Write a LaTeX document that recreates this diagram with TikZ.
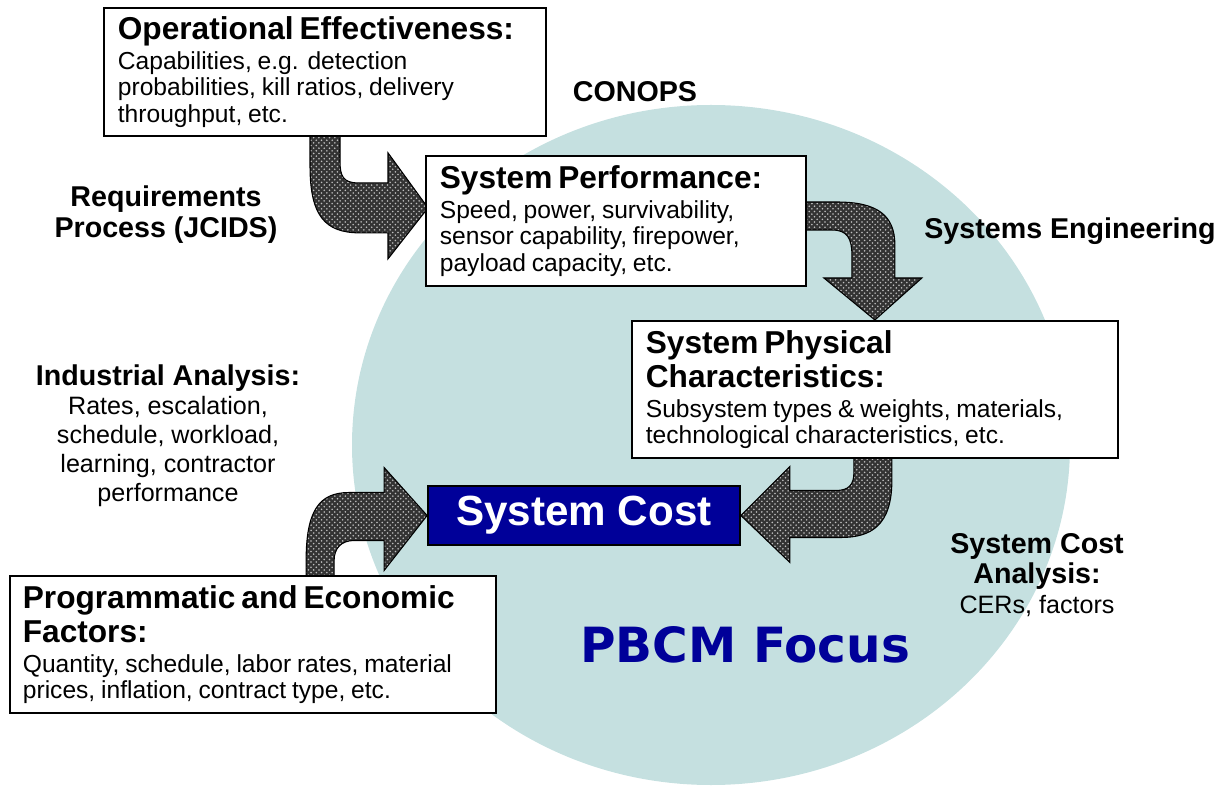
\documentclass[tikz,border=0pt]{standalone}
\usepackage{fontspec}
\setmainfont{Liberation Sans}
\newfontfamily\focusFont{DejaVu Sans}
\usepackage{xcolor}
\definecolor{navyCost}{HTML}{000099}
\definecolor{circleBg}{HTML}{C5E0E0}
\usepackage{tikz}
\usetikzlibrary{patterns,calc}
\pgfdeclarelayer{back}
\pgfdeclarelayer{arrowLayer}
\pgfsetlayers{back,arrowLayer,main}
\newcommand{\boxHead}[1]{{\fontsize{18}{19.5}\selectfont\bfseries #1\par}\vskip 2pt}
\newcommand{\boxBody}[1]{{\fontsize{14}{15}\selectfont #1\par}}
\tikzset{%
  infoBox/.style={%
    rectangle,
    draw=black,
    fill=white,
    line width=1pt,
    anchor=north west,
    align=left,
    inner xsep=0.28cm,
    inner ysep=0.1cm
  },
  costBox/.style={%
    rectangle,
    draw=black,
    fill=navyCost,
    line width=1pt,
    minimum width=6.24cm,
    minimum height=1.18cm,
    text=white,
    font=\fontsize{24}{26}\selectfont\bfseries
  },
  bigArrow/.style={%
    draw=black,
    line width=0.6pt,
    preaction={fill=black!80},
    pattern=crosshatch dots,
    pattern color=white!75!black
  },
  freeLabel/.style={%
    align=center,
    font=\fontsize{16.3}{17.6}\selectfont\bfseries
  }
}

\begin{document}
\begin{tikzpicture}[x=0.2mm, y=-0.2mm]
  \useasboundingbox (0,0) rectangle (1229,794);

  \begin{pgfonlayer}{back}
    \fill[circleBg] (711,445) ellipse [x radius=359, y radius=340];
  \end{pgfonlayer}

  % boxes
  \node[infoBox, text width=8.28cm, minimum height=2.56cm] (opEff) at (103,7)
    {\boxHead{Operational Effectiveness:}\boxBody{Capabilities, e.g. detection\\probabilities, kill ratios, delivery\\throughput, etc.}};
  \node[infoBox, text width=7.04cm, minimum height=2.6cm] (perf) at (425,155)
    {\boxHead{System Performance:}\boxBody{Speed, power, survivability,\\sensor capability, firepower,\\payload capacity, etc.}};
  \node[infoBox, text width=9.16cm, minimum height=2.74cm] (phys) at (631,320)
    {\boxHead{System Physical\\Characteristics:}\boxBody{Subsystem types \& weights, materials,\\technological characteristics, etc.}};
  \node[infoBox, text width=9.2cm, inner xsep=0.26cm, minimum height=2.74cm] (prog) at (9,575)
    {\boxHead{Programmatic and Economic\\Factors:}\boxBody{Quantity, schedule, labor rates, material\\prices, inflation, contract type, etc.}};
  \node[costBox] (cost) at (584,515.5) {System Cost};

  % labels
  \node[freeLabel] (conops) at (635,92) {CONOPS};
  \node[freeLabel] (reqProc) at (166,215) {Requirements\\Process (JCIDS)};
  \node[freeLabel] (sysEng) at (1070,231) {Systems Engineering};
  \node[align=center, font=\fontsize{14.3}{16.5}\selectfont] (indAna) at (168,436)
    {{\fontsize{16.3}{16.5}\selectfont\bfseries Industrial Analysis:}\\Rates, escalation,\\schedule, workload,\\learning, contractor\\performance};
  \node[align=center, font=\fontsize{14.3}{17}\selectfont] (costAna) at (1037,575)
    {{\fontsize{16.3}{17}\selectfont\bfseries System Cost}\\{\fontsize{16.3}{17}\selectfont\bfseries Analysis:}\\CERs, factors};
  \node[text=navyCost, font=\focusFont\fontsize{27.6}{30}\selectfont\bfseries] (focus) at (745,645) {PBCM Focus};

  % big bent arrows
  \begin{pgfonlayer}{arrowLayer}
    \begin{scope}[shift={($(perf.west)+(3,-13)$)}]
      \draw[bigArrow] (-118,-77) -- (-118,-42) .. controls (-118,8) and (-103,25) .. (-68,25)
        -- (-40,25) -- (-40,51) -- (0,0) -- (-40,-55) -- (-40,-25) -- (-70,-25)
        .. controls (-85,-25) and (-88,-32) .. (-88,-47) -- (-88,-77) -- cycle;
    \end{scope}
    \begin{scope}[shift={(phys.north)}]
      \draw[bigArrow] (-73,-118) -- (-38,-118) .. controls (2,-118) and (20,-105) .. (20,-75)
        -- (20,-42) -- (47,-42) -- (0,0) -- (-51,-42) -- (-23,-42) -- (-23,-65)
        .. controls (-23,-82) and (-28,-90) .. (-43,-90) -- (-73,-90) -- cycle;
    \end{scope}
    \begin{scope}[shift={(cost.east)}]
      \draw[bigArrow] (151,-65) -- (151,-35) .. controls (151,10) and (130,22) .. (100,22)
        -- (49,22) -- (49,47) -- (0,0) -- (49,-49) -- (49,-25) -- (95,-25)
        .. controls (108,-25) and (113,-31) .. (113,-43) -- (113,-65) -- cycle;
    \end{scope}
    \begin{scope}[shift={(cost.west)}]
      \draw[bigArrow] (-121,65) -- (-121,45) .. controls (-121,-5) and (-108,-23) .. (-78,-23)
        -- (-43,-23) -- (-43,-48) -- (0,0) -- (-43,55) -- (-43,25) -- (-73,25)
        .. controls (-86,25) and (-93,33) .. (-93,45) -- (-93,65) -- cycle;
    \end{scope}
  \end{pgfonlayer}
\end{tikzpicture}
\end{document}
